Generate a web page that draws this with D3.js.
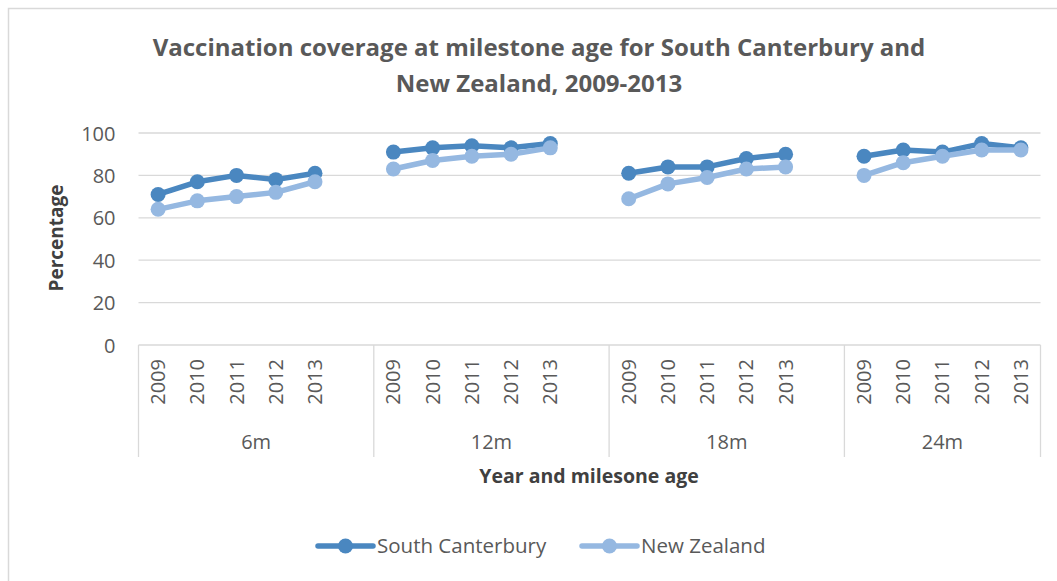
<!DOCTYPE html>
<html><head><meta charset="utf-8">
<script src="https://cdn.jsdelivr.net/npm/d3@7"></script>
<style>
html,body{margin:0;padding:0;background:#fff;}
text{font-family:"Open Sans",sans-serif;}
</style></head>
<body><svg id="c" width="1057" height="581"></svg>
<script>
const title = ["Vaccination coverage at milestone age for South Canterbury and", "New Zealand, 2009-2013"];
const groups = ["6m", "12m", "18m", "24m"];
const years = ["2009", "2010", "2011", "2012", "2013"];
const southCanterbury = [71, 77, 80, 78, 81, 91, 93, 94, 93, 95, 81, 84, 84, 88, 90, 89, 92, 91, 95, 93];
const newZealand = [64, 68, 70, 72, 77, 83, 87, 89, 90, 93, 69, 76, 79, 83, 84, 80, 86, 89, 92, 92];
const yTicks = [0, 20, 40, 60, 80, 100];
const seriesNames = ["South Canterbury", "New Zealand"];
const colors = ["#4a87c0", "#95b8e1"];

const svg = d3.select("#c");
svg.append("rect").attr("x",8.5).attr("y",8.5).attr("width",1060).attr("height",590)
  .attr("fill","#fff").attr("stroke","#d9d9d9").attr("stroke-width",1.5);

// categories: each group has its years plus a blank slot (except last)
const cats = [];
groups.forEach((g,gi)=>{
  years.forEach(yr=>cats.push({key:g+"|"+yr, group:g, year:yr}));
  if (gi < groups.length-1) cats.push({key:g+"|blank", group:g, year:null});
});
const pLeft = 138.5, pRight = 1040.5, pTop = 133, pBottom = 345;
const x = d3.scaleBand().domain(cats.map(c=>c.key)).range([pLeft,pRight]).padding(0);
const y = d3.scaleLinear().domain([0,100]).range([pBottom, pTop]);

// gridlines
svg.append("g").selectAll("line").data(yTicks.filter(t=>t>0)).join("line")
  .attr("x1",pLeft).attr("x2",pRight).attr("y1",d=>y(d)).attr("y2",d=>y(d))
  .attr("stroke","#d9d9d9").attr("stroke-width",1.3);

// y axis labels
const yAxis = d3.axisLeft(y).tickValues(yTicks).tickSize(0).tickPadding(0);
const ya = svg.append("g").attr("transform",`translate(${pLeft-23},0)`).call(yAxis);
ya.select(".domain").remove();
ya.selectAll("text").attr("fill","#595959").style("font-size","20px").attr("dy","0.35em");

// category axis lines
const axisG = svg.append("g");
axisG.append("line").attr("x1",pLeft).attr("x2",pRight).attr("y1",pBottom).attr("y2",pBottom)
  .attr("stroke","#d9d9d9").attr("stroke-width",1.3);
const groupBounds = groups.map(g=>{
  const ks = cats.filter(c=>c.group===g);
  return {g, x0:x(ks[0].key), x1:x(ks[ks.length-1].key)+x.bandwidth()};
});
const divX = [pLeft].concat(groupBounds.map(b=>b.x1));
axisG.selectAll("line.div").data(divX).join("line").attr("class","div")
  .attr("x1",d=>d).attr("x2",d=>d).attr("y1",pBottom).attr("y2",457)
  .attr("stroke","#d9d9d9").attr("stroke-width",1.3);

// year labels
const xAxis = d3.axisBottom(x).tickValues(cats.filter(c=>c.year).map(c=>c.key))
  .tickFormat(k=>k.split("|")[1]).tickSize(0);
const xa = svg.append("g").attr("transform",`translate(0,${pBottom})`).call(xAxis);
xa.select(".domain").remove();
xa.selectAll("text").attr("fill","#595959").style("font-size","20px")
  .attr("transform","rotate(-90)").attr("text-anchor","end")
  .attr("x",-14).attr("y",0).attr("dy","0.35em");

// group labels
svg.append("g").selectAll("text").data(groupBounds).join("text")
  .attr("x",d=>(d.x0+d.x1)/2).attr("y",449)
  .attr("text-anchor","middle").attr("fill","#595959").style("font-size","20px")
  .text(d=>d.g);

// lines and markers
const series = [southCanterbury, newZealand];
const yearKeys = cats.filter(c=>c.year).map(c=>c.key);
series.forEach((vals,si)=>{
  const pts = yearKeys.map((k,i)=>({k, v:vals[i], g:k.split("|")[0]}));
  const gg = svg.append("g");
  groups.forEach(g=>{
    const seg = pts.filter(p=>p.g===g);
    gg.append("path").datum(seg)
      .attr("d", d3.line().x(p=>x(p.k)+x.bandwidth()/2).y(p=>y(p.v)))
      .attr("fill","none").attr("stroke",colors[si]).attr("stroke-width",5.5)
      .attr("stroke-linejoin","round").attr("stroke-linecap","round");
  });
  gg.selectAll("circle").data(pts).join("circle")
    .attr("cx",p=>x(p.k)+x.bandwidth()/2).attr("cy",p=>y(p.v)).attr("r",7.5)
    .attr("fill",colors[si]);
});

// titles
svg.append("text").attr("x",539).attr("y",56).attr("text-anchor","middle")
  .attr("fill","#595959").style("font-size","24px").style("font-weight","bold").text(title[0]);
svg.append("text").attr("x",539).attr("y",92).attr("text-anchor","middle")
  .attr("fill","#595959").style("font-size","24px").style("font-weight","bold").text(title[1]);
svg.append("text").attr("transform","translate(63,238) rotate(-90)").attr("text-anchor","middle")
  .attr("fill","#404040").style("font-size","19px").style("font-weight","bold").text("Percentage");
svg.append("text").attr("x",589).attr("y",483).attr("text-anchor","middle")
  .attr("fill","#404040").style("font-size","19.5px").style("font-weight","bold").text("Year and milesone age");

// legend
const legX = [318, 582];
seriesNames.forEach((n,i)=>{
  const lg = svg.append("g").attr("transform",`translate(${legX[i]},546)`);
  lg.append("line").attr("x1",0).attr("x2",55).attr("y1",0).attr("y2",0)
    .attr("stroke",colors[i]).attr("stroke-width",5.5).attr("stroke-linecap","round");
  lg.append("circle").attr("cx",27.5).attr("cy",0).attr("r",7.5).attr("fill",colors[i]);
  lg.append("text").attr("x",59).attr("y",0).attr("dy","0.35em").attr("fill","#595959")
    .style("font-size","20.5px").text(n);
});
</script></body></html>
